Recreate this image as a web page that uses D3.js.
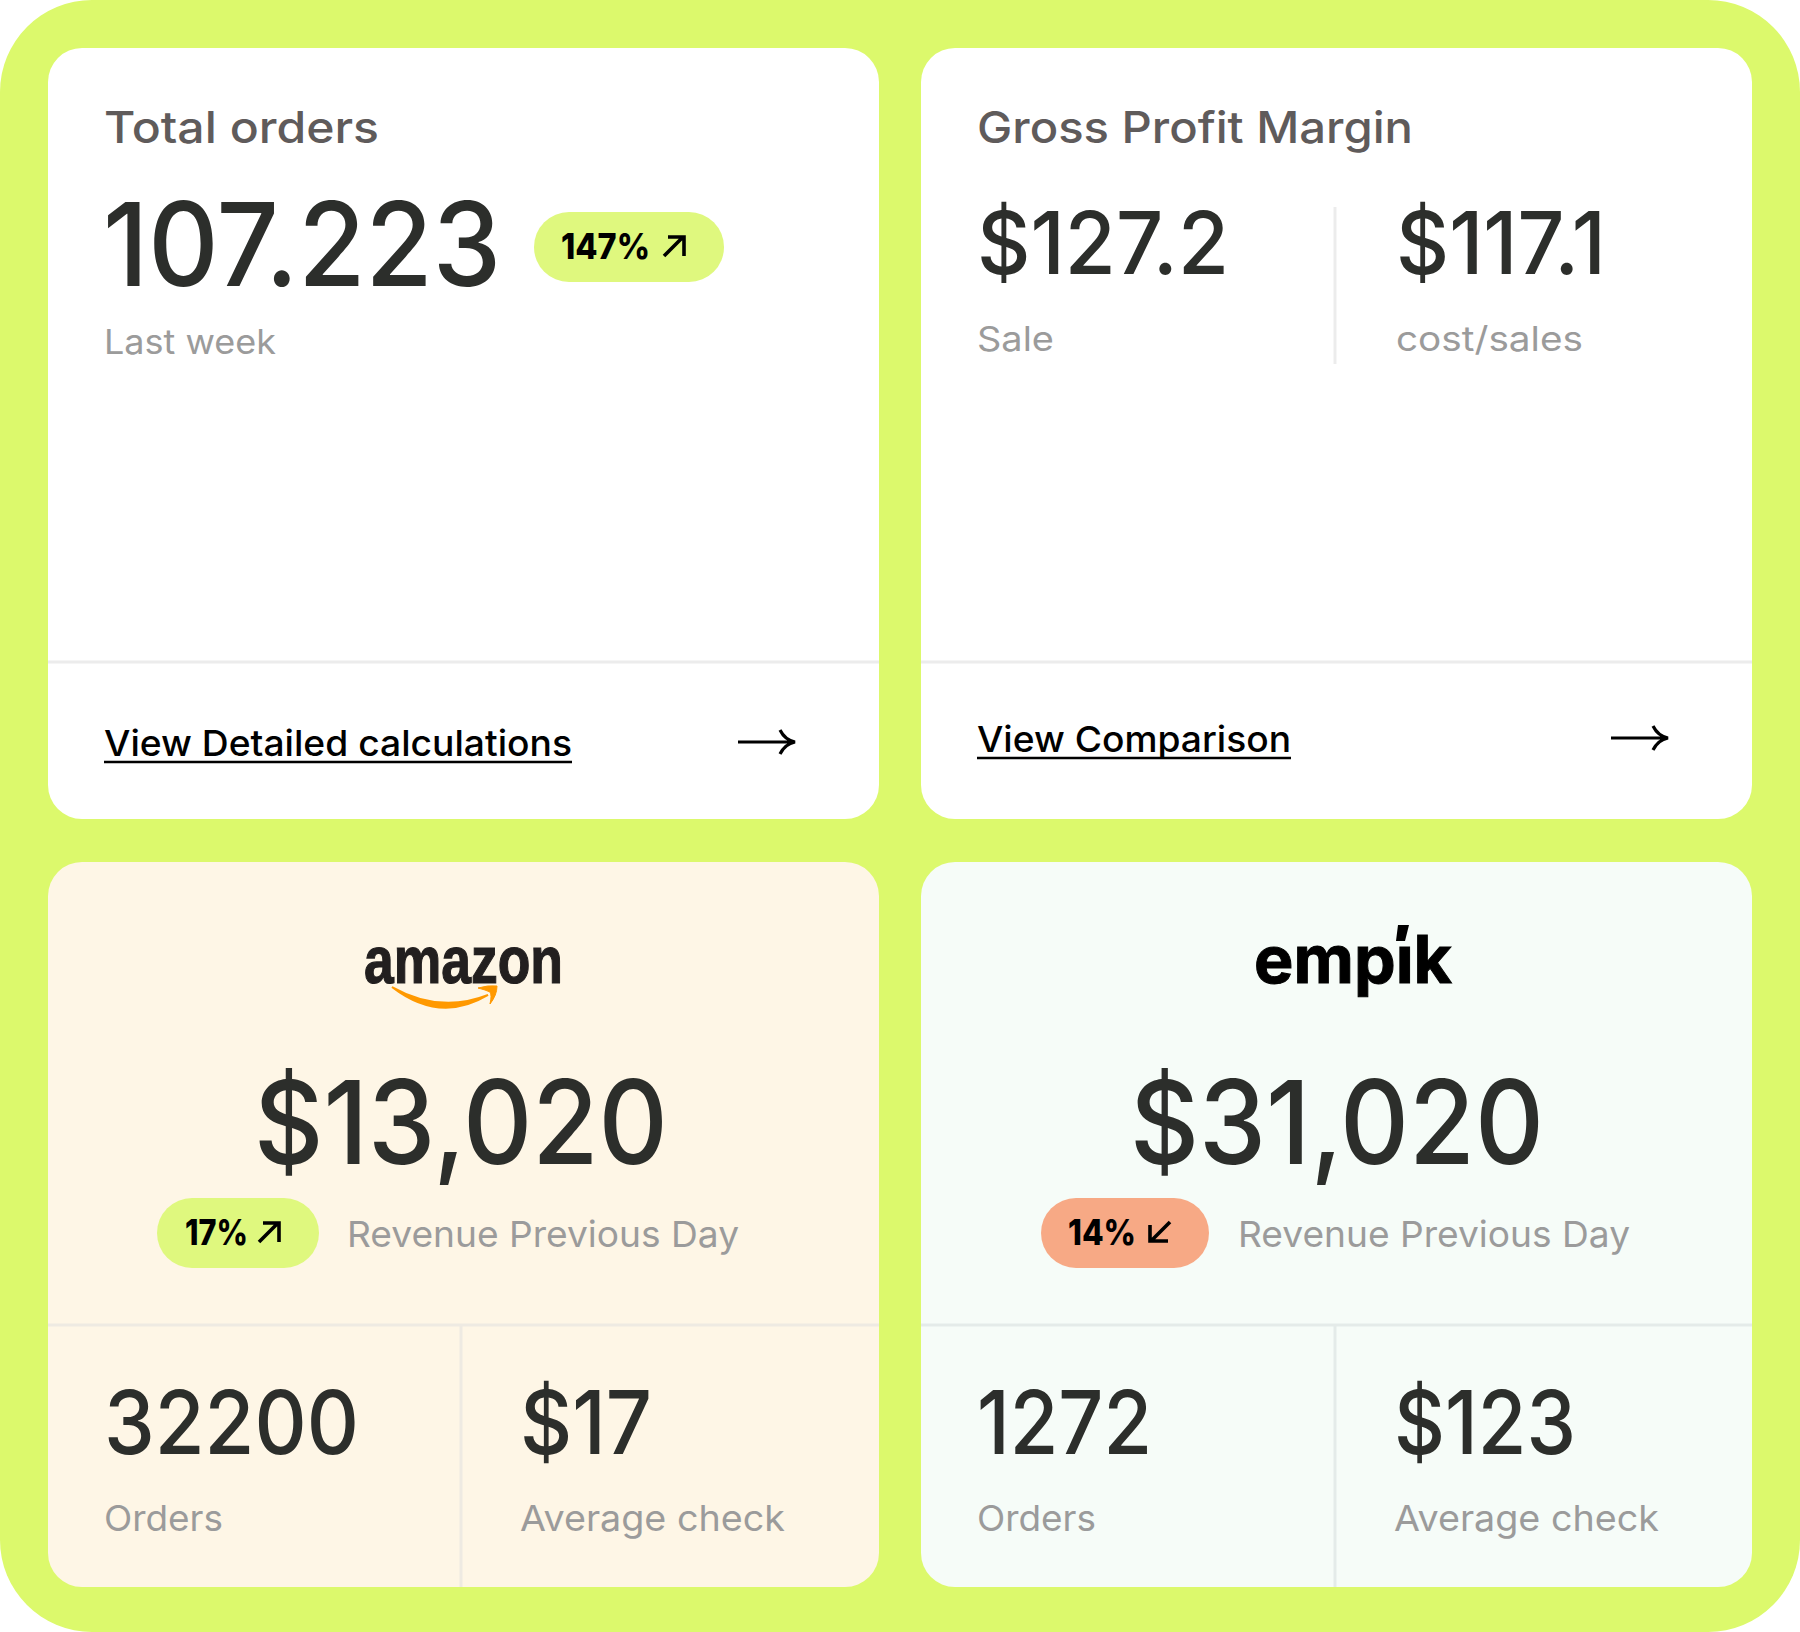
<!DOCTYPE html>
<html>
<head>
<meta charset="utf-8">
<style>
html, body { margin: 0; padding: 0; background: #fff; }
svg { display: block; }
text { font-family: Inter, "Noto Sans", sans-serif; }
</style>
</head>
<body>
<script src="https://cdn.jsdelivr.net/npm/d3@7"></script>
<script>
var width = 1800,
    height = 1632;

// values
var cardTitles = ["Total orders", "Gross Profit Margin"];
var totalOrders = "107.223";
var totalOrdersChange = "147%";
var totalOrdersNote = "Last week";
var marginValues = ["$127.2", "$117.1"];
var marginLabels = ["Sale", "cost/sales"];
var linkLabels = ["View Detailed calculations", "View Comparison"];
var shops = ["amazon", "empik"];
var shopRevenue = ["$13,020", "$31,020"];
var shopChange = ["17%", "14%"];
var shopChangeUp = [true, false];
var shopNote = "Revenue Previous Day";
var shopOrders = ["32200", "1272"];
var shopChecks = ["$17", "$123"];
var shopLabels = ["Orders", "Average check"];

var green = "#dcf96c", pillGreen = "#dff87e", pillOrange = "#f7a985",
    dark = "#2c2e2b", grey = "#9b9b9b", line = "#ececec";

var svg = d3.select("body").append("svg")
            .attr("width", width)
            .attr("height", height);

svg.append("rect")
   .attr("width", width).attr("height", height)
   .attr("rx", 92)
   .attr("fill", green);

// two columns, two rows of cards
var colX = d3.scaleOrdinal().domain([0, 1]).range([48, 921]);
var rowY = d3.scaleOrdinal().domain([0, 1]).range([48, 862]);
var cardW = 831;
var cardH = [771, 725];

function label(x, y, str, size, w, color, weight, anchor) {
  return svg.append("text")
            .attr("x", x).attr("y", y)
            .attr("font-size", size)
            .attr("font-weight", weight || 400)
            .attr("fill", color)
            .attr("text-anchor", anchor || "start")
            .attr("textLength", w)
            .attr("lengthAdjust", "spacingAndGlyphs")
            .text(str);
}

function rule(x1, y1, x2, y2, color, sw) {
  svg.append("line")
     .attr("x1", x1).attr("y1", y1).attr("x2", x2).attr("y2", y2)
     .attr("stroke", color || line)
     .attr("stroke-width", sw || 3);
}

// small diagonal arrow inside the pills
function pillArrow(x, y, up) {
  var p = d3.path();
  if (up) {
    p.moveTo(x, y + 20); p.lineTo(x + 19, y + 1);
    p.moveTo(x + 4, y + 1); p.lineTo(x + 20, y + 1); p.lineTo(x + 20, y + 20);
  } else {
    p.moveTo(x + 21, y); p.lineTo(x + 2, y + 19);
    p.moveTo(x + 1, y + 3); p.lineTo(x + 1, y + 19); p.lineTo(x + 19, y + 19);
  }
  svg.append("path").attr("d", p.toString())
     .attr("fill", "none").attr("stroke", "#000").attr("stroke-width", 3.6);
}

function longArrow(x, y) {
  var p = d3.path();
  p.moveTo(x, y); p.lineTo(x + 56, y);
  p.moveTo(x + 42, y - 12); p.quadraticCurveTo(x + 47, y - 2, x + 57, y);
  p.quadraticCurveTo(x + 47, y + 2, x + 42, y + 12);
  svg.append("path").attr("d", p.toString())
     .attr("fill", "none").attr("stroke", "#000").attr("stroke-width", 3.2);
}

function pill(x, y, w, color) {
  svg.append("rect")
     .attr("x", x).attr("y", y).attr("width", w).attr("height", 70)
     .attr("rx", 35).attr("fill", color);
}

// top cards
[0, 1].forEach(function (i) {
  svg.append("rect")
     .attr("x", colX(i)).attr("y", rowY(0))
     .attr("width", cardW).attr("height", cardH[0])
     .attr("rx", 34).attr("fill", "#fff");
  rule(colX(i), 662, colX(i) + cardW, 662);
});

label(104, 143, cardTitles[0], 44, 275, "#5f5b5b", 500);
label(977, 143, cardTitles[1], 44, 436, "#5f5b5b", 500);

label(103, 286, totalOrders, 116, 398, dark, 550);
pill(534, 212, 190, pillGreen);
label(561, 259, totalOrdersChange, 36, 89, "#000", 800);
pillArrow(664, 236, true);
label(104, 354, totalOrdersNote, 34, 172, grey, 400);

label(977, 274, marginValues[0], 86, 252, dark, 550);
label(1396, 274, marginValues[1], 86, 210, dark, 550);
label(977, 351, marginLabels[0], 34, 77, grey, 400);
label(1396, 351, marginLabels[1], 34, 187, grey, 400);
rule(1335, 207, 1335, 364);

// links with underline
var linkW = [468, 314];
var linkY = [756, 752];
var arrowX = [738, 1611];
var arrowY = [742, 738];
[0, 1].forEach(function (i) {
  var x = i == 0 ? 104 : 977;
  label(x, linkY[i], linkLabels[i], 36, linkW[i], "#000", 500);
  rule(x, linkY[i] + 6, x + linkW[i], linkY[i] + 6, "#000", 2.6);
  longArrow(arrowX[i], arrowY[i]);
});

// shop cards
var shopFill = ["#fef6e6", "#f6fcf8"];
var revX = [254, 1130];
var pillX = [157, 1041];
var pillW = [162, 168];
var pillText = [185, 1068];
var pillTextW = [63, 68];
var arrowPillX = [259, 1149];
var noteX = [347, 1238];
var ordersX = [104, 977];
var ordersW = [255, 175];
var checkX = [520, 1394];
var checkW = [132, 182];
var splitX = [461, 1335];
var ruleCol = ["#eeeae2", "#e4ebe9"];

[0, 1].forEach(function (i) {
  svg.append("rect")
     .attr("x", colX(i)).attr("y", rowY(1))
     .attr("width", cardW).attr("height", cardH[1])
     .attr("rx", 34).attr("fill", shopFill[i]);

  rule(colX(i), 1325, colX(i) + cardW, 1325, ruleCol[i]);
  rule(splitX[i], 1325, splitX[i], 1587, ruleCol[i]);

  label(revX[i], 1164, shopRevenue[i], 116, 414, dark, 550);
  pill(pillX[i], 1198, pillW[i], shopChangeUp[i] ? pillGreen : pillOrange);
  label(pillText[i], 1245, shopChange[i], 36, pillTextW[i], "#000", 800);
  pillArrow(arrowPillX[i], 1222, shopChangeUp[i]);
  label(noteX[i], 1247, shopNote, 36, 392, grey, 400);

  label(ordersX[i], 1454, shopOrders[i], 88, ordersW[i], dark, 550);
  label(checkX[i], 1454, shopChecks[i], 88, checkW[i], dark, 550);
  label(ordersX[i], 1531, shopLabels[0], 36, 119, grey, 400);
  label(checkX[i], 1531, shopLabels[1], 36, 265, grey, 400);
});

// amazon logo
label(364, 983, shops[0], 67, 199, "#221f1f", 700)
  .attr("stroke", "#221f1f").attr("stroke-width", 1.2)
  .style("font-family", "'Liberation Sans', sans-serif");
var smile = d3.path();
smile.moveTo(392, 987);
smile.quadraticCurveTo(440, 1014, 488, 995);
smile.quadraticCurveTo(440, 1024, 392, 987);
svg.append("path").attr("d", smile.toString()).attr("fill", "#ff9900").attr("stroke", "#ff9900").attr("stroke-width", 2);
var tip = d3.path();
tip.moveTo(478, 988);
tip.quadraticCurveTo(488, 985, 497, 986);
tip.quadraticCurveTo(497, 995, 490, 1004);
tip.quadraticCurveTo(492, 995, 490, 992);
tip.quadraticCurveTo(486, 990, 478, 988);
svg.append("path").attr("d", tip.toString()).attr("fill", "#ff9900").attr("stroke", "#ff9900").attr("stroke-width", 1);

// empik logo, the dot of the i is an apostrophe
label(1254, 983, shops[1], 66, 198, "#000", 700)
  .attr("stroke", "#000").attr("stroke-width", 1);
svg.append("rect")
   .attr("x", 1390).attr("y", 920).attr("width", 23).attr("height", 25)
   .attr("fill", shopFill[1]);
var mark = d3.path();
mark.moveTo(1398, 925);
mark.lineTo(1409, 925);
mark.lineTo(1405, 941);
mark.lineTo(1396, 941);
mark.closePath();
svg.append("path").attr("d", mark.toString()).attr("fill", "#000");
</script>
</body>
</html>
